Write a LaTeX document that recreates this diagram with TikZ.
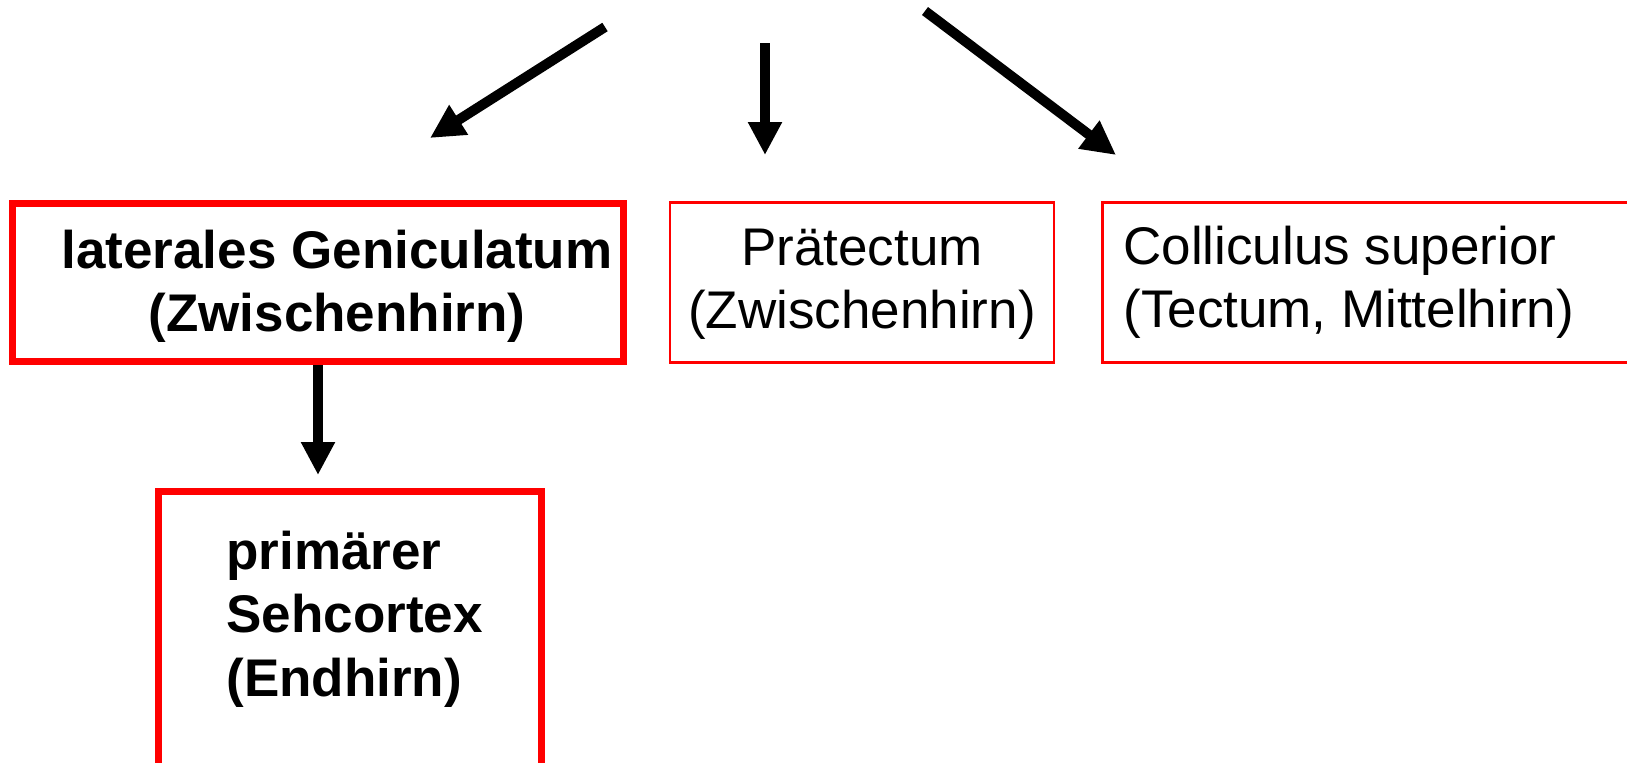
\documentclass[tikz,border=0pt]{standalone}
\usepackage{fontspec}
\setmainfont{Liberation Sans}
\usetikzlibrary{arrows.meta}
\definecolor{boxred}{RGB}{255,0,0}
\tikzset{
  thickbox/.style={draw=boxred, line width=3.5pt, rectangle, inner sep=0pt},
  thinbox/.style={draw=boxred, line width=1.2pt, rectangle, inner sep=0pt},
  lbl/.style={inner sep=0pt, font=\fontsize{26.5pt}{31.5pt}\selectfont},
  arr/.style={line width=5pt, -{Triangle[width=16pt,length=16.5pt]}},
  diagarr/.style={line width=5pt, -{Triangle[width=16.5pt,length=17pt]}}
}
\begin{document}
\begin{tikzpicture}[x=0.5pt,y=-0.5pt]
\useasboundingbox (0,0) rectangle (1627,762);
% boxes
\node[thickbox, minimum width=305.25pt, minimum height=79pt] (lgnbox) at (317.75,282.5) {};
\node[thinbox, minimum width=192pt, minimum height=80pt] (ptbox) at (862,282.5) {};
\node[thinbox, minimum width=265pt, minimum height=80pt] (scbox) at (1367.5,282.5) {};
\node[thickbox, minimum width=191.5pt, minimum height=149.5pt] (v1box) at (350,640.5) {};
% texts (anchor base = baseline of last line)
\node[lbl, anchor=base, align=center, font=\fontsize{26.5pt}{31.5pt}\selectfont\bfseries] (lgntext) at (337,331) {laterales Geniculatum\\(Zwischenhirn)};
\node[lbl, anchor=base, align=center] (pttext) at (862,328) {Prätectum\\(Zwischenhirn)};
\node[lbl, anchor=base west, align=left] (sctext) at (1123,327) {Colliculus superior\\(Tectum, Mittelhirn)};
\node[lbl, anchor=base west, align=left, font=\fontsize{26.5pt}{31.75pt}\selectfont\bfseries] (v1text) at (226,696) {primärer\\Sehcortex\\(Endhirn)};
% arrow end points
\coordinate (s1) at (605,27);
\coordinate (t1) at (430,138);
\coordinate (s2) at (765,43);
\coordinate (t2) at (765,155);
\coordinate (s3) at (925,11);
\coordinate (t3) at (1116,155);
\coordinate (t4) at (318,475);
% arrows
\draw[diagarr] (s1) -- (t1);
\draw[arr] (s2) -- (t2);
\draw[diagarr] (s3) -- (t3);
\draw[arr] (t4 |- lgnbox.south) -- (t4);
\end{tikzpicture}
\end{document}
